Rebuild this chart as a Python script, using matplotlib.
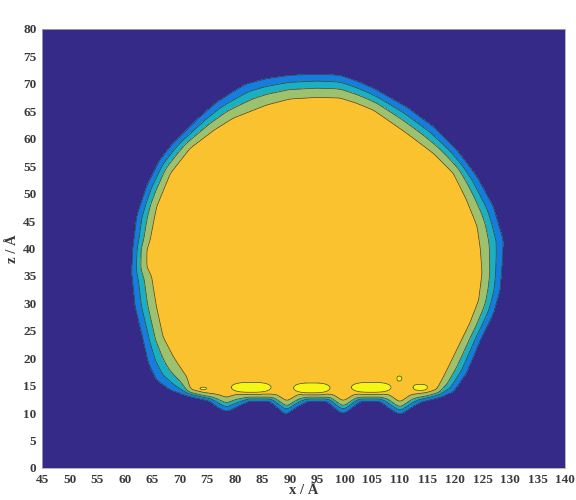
import numpy as np
import matplotlib
matplotlib.use("Agg")
import matplotlib.pyplot as plt
from matplotlib.path import Path

# outer edge of the droplet (navy/blue boundary)
outer_x = [95.0, 90.0, 85.8, 82.0, 79.5, 76.5, 73.7, 71.3, 68.5, 66.4, 64.0, 62.2, 61.5, 61.3,
           61.9, 63.1, 64.3, 65.8, 68.3, 71.3, 74.3, 75.5, 77.0, 78.5, 80.2, 82.5, 86.4,
           87.9, 89.3, 90.9, 93.2, 96.8, 98.2, 99.7, 101.2, 102.8, 106.4, 108.2, 110.0,
           111.8, 113.7, 117.3, 119.7, 122.1, 124.6, 127.0, 128.2, 128.7, 128.8, 127.0,
           124.0, 120.3, 116.1, 111.2, 105.2, 102.0, 99.1]
outer_z = [71.8, 71.6, 71.0, 70.0, 68.5, 66.5, 64.0, 61.6, 58.8, 56.1, 51.3, 45.8, 39.7, 35.5,
           29.4, 24.5, 19.1, 16.0, 14.2, 13.3, 12.6, 12.3, 11.1, 10.3, 11.1, 12.3, 12.3,
           11.0, 9.8, 11.0, 12.3, 12.3, 11.0, 9.9, 11.0, 12.3, 12.3, 10.9, 9.8,
           10.9, 12.1, 13.0, 13.9, 17.3, 23.3, 28.2, 32.4, 38.5, 41.5, 47.6,
           53.1, 58.0, 62.2, 65.8, 69.2, 70.6, 71.6]

# inner edge (green/orange boundary)
inner_x = [94.9, 90.0, 85.8, 79.7, 76.3, 71.9, 68.3, 65.8, 64.6, 64.0, 64.0, 64.9, 65.8,
           67.0, 68.9, 71.3, 71.9, 74.3, 77.0, 78.5, 80.0, 87.5, 89.5, 91.5, 97.8, 99.7,
           101.7, 108.0, 110.0, 112.0, 114.9, 116.7, 117.9, 120.3, 122.7, 124.3, 124.9,
           124.6, 124.0, 122.1, 119.7, 116.1, 111.2, 105.2, 102.0, 99.1]
inner_z = [67.5, 67.2, 66.1, 63.7, 61.6, 58.3, 53.7, 47.6, 41.5, 39.7, 36.7, 34.9, 29.4,
           23.9, 20.3, 16.6, 14.2, 13.6, 13.3, 12.8, 13.3, 13.3, 12.1, 13.3, 13.3, 12.1,
           13.3, 13.3, 11.9, 13.3, 13.6, 14.2, 16.6, 21.5, 26.4, 30.6, 35.5,
           39.7, 44.0, 48.8, 53.7, 57.3, 61.0, 65.2, 66.5, 67.4]

# high-density spots near the substrate: centre x, centre z, half width, half height
blob_x = [83.0, 94.0, 104.8, 113.7, 109.9, 74.3]
blob_z = [14.7, 14.6, 14.7, 14.7, 16.3, 14.5]
blob_a = [3.6, 3.3, 3.6, 1.3, 0.45, 0.6]
blob_b = [0.9, 0.9, 0.9, 0.55, 0.45, 0.22]

colors = ['#352A87', '#157DE0', '#1AAFC2', '#9DC26F', '#FBC22F', '#F6F516']
levels = [-100, 0, 0.3, 0.6, 1.0, 2.0, 10]

x = np.arange(45, 140.05, 0.1)
z = np.arange(0, 80.05, 0.1)
X, Z = np.meshgrid(x, z)
pts = np.c_[X.ravel(), Z.ravel()]


def edge_dist(px, pz):
    # distance from every grid point to a closed polygon
    d = np.full(X.shape, np.inf)
    n = len(px)
    for i in range(n):
        x0, z0 = px[i], pz[i]
        x1, z1 = px[(i + 1) % n], pz[(i + 1) % n]
        dx, dz = x1 - x0, z1 - z0
        t = np.clip(((X - x0) * dx + (Z - z0) * dz) / (dx * dx + dz * dz), 0, 1)
        d = np.minimum(d, np.hypot(X - x0 - t * dx, Z - z0 - t * dz))
    return d


def box_blur(a, w, axis):
    pad = [(0, 0), (0, 0)]
    pad[axis] = (w // 2 + 1, w // 2)
    c = np.cumsum(np.pad(a, pad, mode='edge'), axis=axis)
    if axis == 0:
        return (c[w:] - c[:-w]) / w
    return (c[:, w:] - c[:, :-w]) / w


in_out = Path(np.c_[outer_x, outer_z]).contains_points(pts).reshape(X.shape)
in_in = Path(np.c_[inner_x, inner_z]).contains_points(pts).reshape(X.shape)
d_out = edge_dist(outer_x, outer_z)
d_in = edge_dist(inner_x, inner_z)

F = np.where(in_out, d_out / (d_out + d_in + 1e-9), -np.minimum(0.3 * d_out, 1.0))
F = np.where(in_in, 1.0 + np.minimum(0.3 * d_in, 0.5), F)
# soften the polygon corners
for _ in range(3):
    F = box_blur(F, 7, 0)
    F = box_blur(F, 7, 1)

for cx, cz, a, b in zip(blob_x, blob_z, blob_a, blob_b):
    r2 = np.abs((X - cx) / a) ** 3 + ((Z - cz) / b) ** 2
    F = np.maximum(F, 3 - r2)

fig = plt.figure(figsize=(5.76, 5.0), dpi=100)
ax = fig.add_axes([0.073, 0.064, 0.908, 0.878])
ax.contourf(X, Z, F, levels=levels, colors=colors)
ax.contour(X, Z, F, levels=levels[1:-1], colors='#3c3c30', linewidths=0.5)

ax.set_xlim(45, 140)
ax.set_ylim(0, 80)
ax.set_xticks(np.arange(45, 141, 5))
ax.set_yticks(np.arange(0, 81, 5))
ax.tick_params(length=0, labelsize=9.5, pad=4)
for lab in ax.get_xticklabels() + ax.get_yticklabels():
    lab.set_fontfamily('Liberation Serif')
    lab.set_fontweight('bold')
    lab.set_color('#3a3a3a')
for s in ax.spines.values():
    s.set_color('#aaaaaa')
    s.set_linewidth(0.6)

ax.set_xlabel('x / Å', fontfamily='Liberation Serif', fontweight='bold',
              fontsize=10.5, color='#3a3a3a', labelpad=-1)
ax.set_ylabel('z / Å', fontfamily='Liberation Serif', fontweight='bold',
              fontsize=10.5, color='#3a3a3a', labelpad=3)

fig.savefig('out.png', dpi=100)
